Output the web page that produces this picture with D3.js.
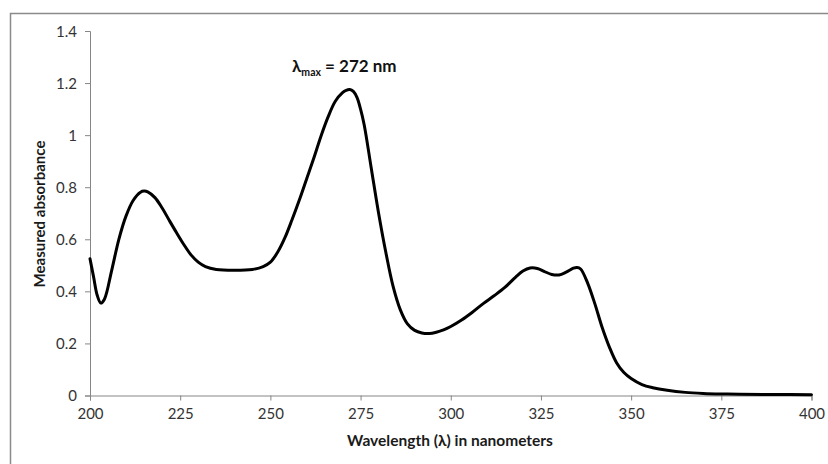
<!DOCTYPE html>
<html>
<head>
<meta charset="utf-8">
<script src="https://cdn.jsdelivr.net/npm/d3@7"></script>
<style>
  html, body { margin: 0; padding: 0; background: #fff; }
  svg { display: block; }
  text { font-family: Lato, "Open Sans", "Liberation Sans", sans-serif; }
</style>
</head>
<body>
<svg id="chart" width="828" height="464"></svg>
<script>
// UV absorbance spectrum: wavelength (nm) and measured absorbance
const wavelengths = [
  200, 201, 202, 203, 204, 206, 208, 210, 212, 214, 215, 216, 218, 220, 222, 224, 226, 228, 230, 232,
  235, 240, 245, 248, 250, 252, 254, 256, 258, 260, 262, 264, 266, 268, 270, 271, 272, 273, 274, 275,
  276, 278, 280, 282, 284, 286, 288, 290, 292, 294, 296, 298, 300, 303, 306, 309, 312, 315, 318, 320,
  322, 324, 326, 328, 330, 332, 334, 335, 336, 338, 340, 342, 344, 346, 348, 350, 353, 356, 360, 365,
  370, 375, 380, 390, 400
];
const absorbance = [
  0.525, 0.455, 0.385, 0.355, 0.37, 0.48, 0.60, 0.69, 0.75, 0.781, 0.785, 0.782, 0.76, 0.72, 0.672, 0.625, 0.58, 0.54, 0.512, 0.495,
  0.484, 0.481, 0.484, 0.495, 0.512, 0.55, 0.605, 0.675, 0.75, 0.83, 0.91, 0.995, 1.07, 1.13, 1.163, 1.172, 1.175, 1.168, 1.145, 1.1,
  1.04, 0.87, 0.70, 0.55, 0.42, 0.33, 0.275, 0.25, 0.24, 0.238, 0.243, 0.252, 0.265, 0.29, 0.32, 0.353, 0.383, 0.415, 0.455, 0.478,
  0.49, 0.488, 0.476, 0.465, 0.463, 0.474, 0.489, 0.492, 0.486, 0.43, 0.35, 0.26, 0.185, 0.125, 0.088, 0.065, 0.042, 0.03, 0.02, 0.012,
  0.008, 0.006, 0.005, 0.004, 0.003
];
const xTicks = [200, 225, 250, 275, 300, 325, 350, 375, 400];
const yTicks = [0, 0.2, 0.4, 0.6, 0.8, 1, 1.2, 1.4];
const xTitle = "Wavelength (λ) in nanometers";
const yTitle = "Measured absorbance";
const peakWavelength = 272;

const svg = d3.select("#chart");
const plot = { left: 90, right: 811.5, top: 31, bottom: 395.5 };

const x = d3.scaleLinear().domain([200, 400]).range([plot.left, plot.right]);
const y = d3.scaleLinear().domain([0, 1.4]).range([plot.bottom, plot.top]);

// outer chart frame
svg.append("rect")
  .attr("x", 10.5).attr("y", 13.5)
  .attr("width", 830).attr("height", 470)
  .attr("fill", "none")
  .attr("stroke", "#8a8a8a")
  .attr("stroke-width", 1.5);

const axisColor = "#868686";
const labelColor = "#333333";
const tickFont = 15;

// y axis
const yAxis = svg.append("g")
  .attr("transform", `translate(${plot.left},0)`)
  .call(d3.axisLeft(y).tickValues(yTicks).tickSize(5).tickPadding(8)
    .tickFormat(d => d3.format("~g")(d)));
yAxis.select(".domain").attr("stroke", axisColor);
yAxis.selectAll(".tick line").attr("stroke", axisColor);
yAxis.selectAll(".tick text")
  .attr("fill", labelColor).attr("font-size", tickFont)
  .attr("dy", "0.35em");

// x axis
const xAxis = svg.append("g")
  .attr("transform", `translate(0,${plot.bottom})`)
  .call(d3.axisBottom(x).tickValues(xTicks).tickSize(5).tickPadding(8));
xAxis.select(".domain").attr("stroke", axisColor);
xAxis.selectAll(".tick line").attr("stroke", axisColor);
xAxis.selectAll(".tick text")
  .attr("fill", labelColor).attr("font-size", tickFont);

// axis titles
svg.append("text")
  .attr("x", 450)
  .attr("y", 446)
  .attr("text-anchor", "middle")
  .attr("font-size", 15.5)
  .attr("font-weight", "bold")
  .attr("fill", "#1a1a1a")
  .text(xTitle);

svg.append("text")
  .attr("transform", `translate(45,214) rotate(-90)`)
  .attr("text-anchor", "middle")
  .attr("font-size", 15)
  .attr("font-weight", "bold")
  .attr("fill", "#1a1a1a")
  .text(yTitle);

// spectrum curve
const points = wavelengths.map((w, i) => [w, absorbance[i]]);
const line = d3.line()
  .x(d => x(d[0]))
  .y(d => y(d[1]))
  .curve(d3.curveCatmullRom.alpha(0.5));

svg.append("path")
  .datum(points)
  .attr("d", line)
  .attr("fill", "none")
  .attr("stroke", "#000")
  .attr("stroke-width", 3)
  .attr("stroke-linejoin", "round")
  .attr("stroke-linecap", "round");

// peak annotation
const peakLabel = svg.append("text")
  .attr("x", 292)
  .attr("y", 72)
  .attr("font-size", 17)
  .attr("font-weight", "bold")
  .attr("fill", "#111");
peakLabel.append("tspan").text("λ");
peakLabel.append("tspan").attr("font-size", 10.5).attr("dy", 4).text("max");
peakLabel.append("tspan").attr("dy", -4).text(` = ${peakWavelength} nm`);
</script>
</body>
</html>
